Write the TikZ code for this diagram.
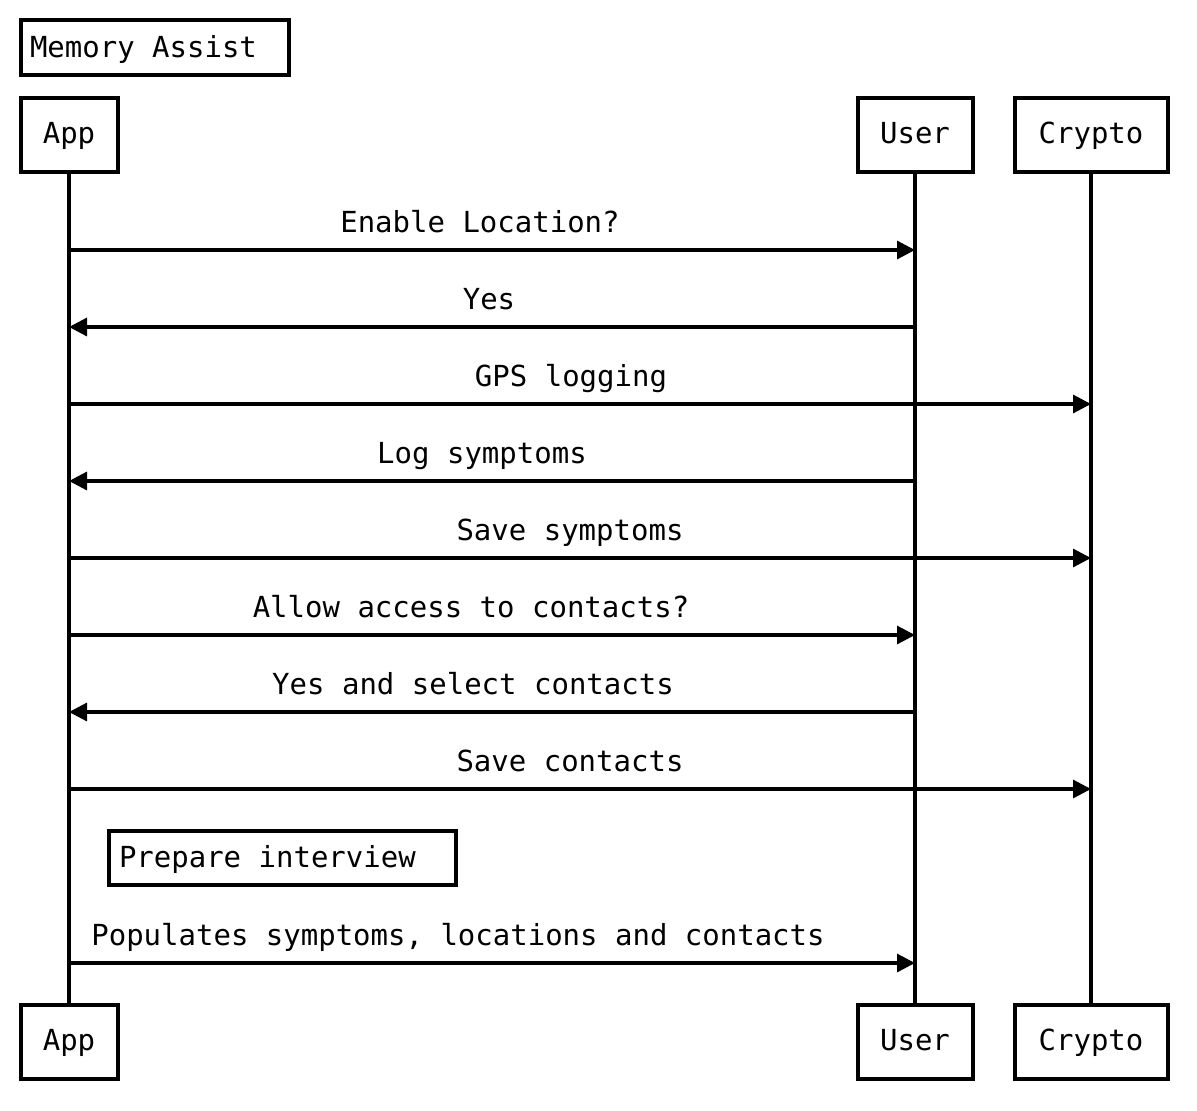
\documentclass[tikz,border=0pt]{standalone}
\usepackage{fontspec}
\setmonofont{DejaVu Sans Mono}
\usetikzlibrary{arrows.meta}
\tikzset{
  every node/.style={font=\ttfamily\fontsize{29}{35}\selectfont, inner sep=0pt},
  boxline/.style={draw, line width=4pt},
  actor/.style={boxline, minimum height=74pt, text height=24pt, text depth=7pt},
  note/.style={boxline, text height=24pt},
  life/.style={line width=3.2pt},
  msg/.style={line width=3.2pt, -{Triangle[length=18pt,width=18pt]}},
  lbl/.style={anchor=base}
}
\begin{document}
\begin{tikzpicture}[x=1pt,y=-1pt]
\useasboundingbox[fill=white] (0,0) rectangle (1197,1111);
% title
\node[note, text depth=4pt, minimum height=55pt, inner xsep=9.5pt] (title) at (154.5,47) {\makebox[249pt][l]{Memory Assist}};
% actors
\node[actor, minimum width=97pt] (appT) at (69,134.5) {App};
\node[actor, minimum width=115pt] (userT) at (915,134.5) {User};
\node[actor, minimum width=153pt] (cryT) at (1091,134.5) {Crypto};
\node[actor, minimum width=97pt] (appB) at (69,1041.5) {App};
\node[actor, minimum width=115pt] (userB) at (915,1041.5) {User};
\node[actor, minimum width=153pt] (cryB) at (1091,1041.5) {Crypto};
% lifelines
\draw[life] (appT.south) -- (appB.north);
\draw[life] (userT.south) -- (userB.north);
\draw[life] (cryT.south) -- (cryB.north);
% message end points
\coordinate (a1) at (69,250);  \coordinate (u1) at (915,250);
\coordinate (a2) at (69,327);  \coordinate (u2) at (915,327);
\coordinate (a3) at (69,404);  \coordinate (c3) at (1091,404);
\coordinate (a4) at (69,481);  \coordinate (u4) at (915,481);
\coordinate (a5) at (69,558);  \coordinate (c5) at (1091,558);
\coordinate (a6) at (69,635);  \coordinate (u6) at (915,635);
\coordinate (a7) at (69,712);  \coordinate (u7) at (915,712);
\coordinate (a8) at (69,789);  \coordinate (c8) at (1091,789);
\coordinate (a9) at (69,963);  \coordinate (u9) at (915,963);
% messages
\draw[msg] (a1) -- (u1);
\node[lbl] (l1) at (480,232) {Enable Location?};
\draw[msg] (u2) -- (a2);
\node[lbl] (l2) at (489,309) {Yes};
\draw[msg] (a3) -- (c3);
\node[lbl] (l3) at (571,386) {GPS logging};
\draw[msg] (u4) -- (a4);
\node[lbl] (l4) at (482,463) {Log symptoms};
\draw[msg] (a5) -- (c5);
\node[lbl] (l5) at (570,540) {Save symptoms};
\draw[msg] (a6) -- (u6);
\node[lbl] (l6) at (471,617) {Allow access to contacts?};
\draw[msg] (u7) -- (a7);
\node[lbl] (l7) at (473,694) {Yes and select contacts};
\draw[msg] (a8) -- (c8);
\node[lbl] (l8) at (570,771) {Save contacts};
% note
\node[note, text depth=5pt, minimum height=54pt, inner xsep=10.5pt] (prep) at (282,857.5) {\makebox[326pt][l]{Prepare interview}};
\draw[msg] (a9) -- (u9);
\node[lbl] (l9) at (458,945) {Populates symptoms, locations and contacts};
\end{tikzpicture}
\end{document}
